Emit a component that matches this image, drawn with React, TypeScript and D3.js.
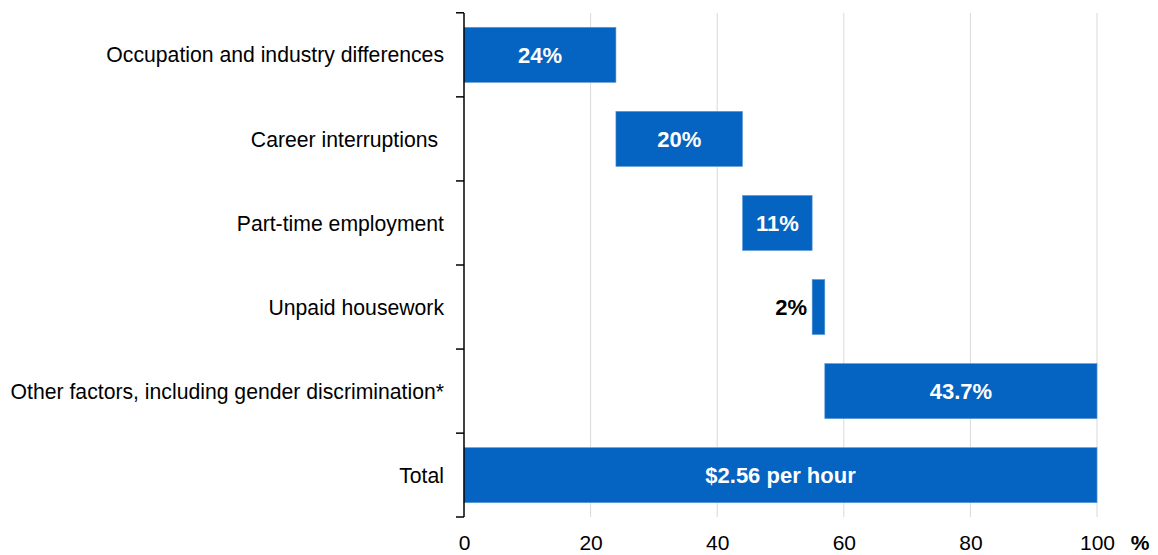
import React from "react";
import { select, scaleLinear, scaleBand, axisBottom } from "d3";

// categories, top to bottom
const categories = [
  "Occupation and industry differences",
  "Career interruptions ",
  "Part-time employment",
  "Unpaid housework",
  "Other factors, including gender discrimination*",
  "Total",
];
// waterfall segment start / end (% of gap)
const segStart = [0, 24, 44, 55, 57, 0];
const segEnd = [24, 44, 55, 57, 100, 100];
const barLabels = ["24%", "20%", "11%", "2%", "43.7%", "$2.56 per hour"];
const xTicks = [0, 20, 40, 60, 80, 100];

const W = 1158;
const H = 555;
const margin = { top: 13, right: 61, bottom: 38, left: 464 };
const BLUE = "#0563c1";
const FONT = "'Liberation Sans', Arial, sans-serif";

export default function App() {
  const svgRef = React.useRef<SVGSVGElement>(null);

  React.useEffect(() => {
    document.body.style.margin = "0";
    const svg = select(svgRef.current);
    svg.selectAll("*").remove();

    const x = scaleLinear()
      .domain([0, 100])
      .range([margin.left, W - margin.right]);
    const y = scaleBand()
      .domain(categories)
      .range([margin.top, H - margin.bottom])
      .paddingInner(0.345)
      .paddingOuter(0.17);

    const rows = categories.map((c, i) => ({
      cat: c,
      x0: segStart[i],
      x1: segEnd[i],
      label: barLabels[i],
    }));
    const narrow = (d: { x0: number; x1: number }) => x(d.x1) - x(d.x0) < 40;

    // gridlines
    svg
      .append("g")
      .selectAll("line")
      .data(xTicks.filter((t) => t > 0))
      .join("line")
      .attr("x1", (d) => x(d))
      .attr("x2", (d) => x(d))
      .attr("y1", margin.top)
      .attr("y2", H - margin.bottom)
      .attr("stroke", "#d9d9d9")
      .attr("stroke-width", 1);

    // bars
    svg
      .append("g")
      .selectAll("rect")
      .data(rows)
      .join("rect")
      .attr("x", (d) => x(d.x0))
      .attr("y", (d) => y(d.cat)!)
      .attr("width", (d) => x(d.x1) - x(d.x0))
      .attr("height", y.bandwidth())
      .attr("fill", BLUE)
      .attr("stroke", "#5b9bd5")
      .attr("stroke-width", 0.6);

    // bar labels
    svg
      .append("g")
      .selectAll("text")
      .data(rows)
      .join("text")
      .attr("x", (d) => (narrow(d) ? x(d.x0) - 5 : (x(d.x0) + x(d.x1)) / 2))
      .attr("y", (d) => y(d.cat)! + y.bandwidth() / 2)
      .attr("dy", "0.36em")
      .attr("text-anchor", (d) => (narrow(d) ? "end" : "middle"))
      .attr("fill", (d) => (narrow(d) ? "#000" : "#fff"))
      .attr("font-family", FONT)
      .attr("font-weight", "bold")
      .attr("font-size", 22)
      .text((d) => d.label);

    // category labels
    svg
      .append("g")
      .selectAll("text")
      .data(categories)
      .join("text")
      .attr("x", margin.left - 20)
      .attr("y", (d) => y(d)! + y.bandwidth() / 2)
      .attr("dy", "0.36em")
      .attr("text-anchor", "end")
      .attr("font-family", FONT)
      .attr("font-size", 21.2)
      .attr("fill", "#000")
      .style("white-space", "pre")
      .text((d) => d);

    // y axis line + boundary ticks
    const yAxis = svg.append("g");
    yAxis
      .append("line")
      .attr("x1", margin.left)
      .attr("x2", margin.left)
      .attr("y1", margin.top)
      .attr("y2", H - margin.bottom)
      .attr("stroke", "#000")
      .attr("stroke-width", 1.5);
    const step = y.step();
    const bounds = categories.map((c) => y(c)! - (step - y.bandwidth()) / 2);
    bounds.push(H - margin.bottom);
    yAxis
      .selectAll("line.tick")
      .data(bounds)
      .join("line")
      .attr("class", "tick")
      .attr("x1", margin.left - 8)
      .attr("x2", margin.left)
      .attr("y1", (d) => d)
      .attr("y2", (d) => d)
      .attr("stroke", "#000")
      .attr("stroke-width", 1.5);

    // x axis labels
    const xg = svg
      .append("g")
      .attr("transform", `translate(0,${H - margin.bottom})`)
      .call(axisBottom(x).tickValues(xTicks).tickSize(0).tickPadding(0));
    xg.select(".domain").remove();
    xg.selectAll("text")
      .attr("y", 25)
      .attr("dy", "0.36em")
      .attr("font-family", FONT)
      .attr("font-size", 21)
      .attr("fill", "#000");

    svg
      .append("text")
      .attr("x", x(100) + 43)
      .attr("y", H - margin.bottom + 25)
      .attr("dy", "0.36em")
      .attr("text-anchor", "middle")
      .attr("font-family", FONT)
      .attr("font-weight", "bold")
      .attr("font-size", 21)
      .text("%");

    return () => {
      svg.selectAll("*").remove();
    };
  }, []);

  return <svg ref={svgRef} width={W} height={H} style={{ display: "block" }} />;
}
